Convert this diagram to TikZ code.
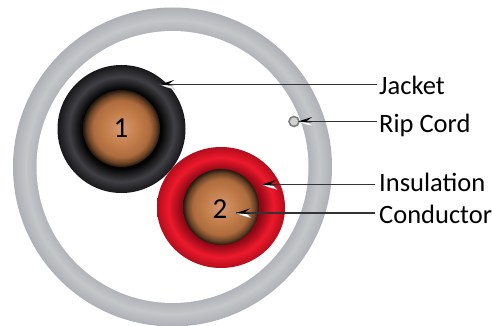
\documentclass[tikz,border=0pt]{standalone}
\usepackage{fontspec}
\usetikzlibrary{shapes.geometric,calc}
\setmainfont{Carlito}
\definecolor{cua}{rgb}{0.84,0.60,0.44}
\definecolor{cub}{rgb}{0.76,0.49,0.29}
\definecolor{cuc}{rgb}{0.68,0.42,0.24}
\definecolor{cud}{rgb}{0.40,0.25,0.14}
\definecolor{cue}{rgb}{0.13,0.09,0.06}
\definecolor{bka}{rgb}{0.01,0.01,0.01}
\definecolor{bkb}{rgb}{0.25,0.25,0.27}
\definecolor{bkc}{rgb}{0.09,0.09,0.10}
\definecolor{rda}{rgb}{0.55,0.03,0.08}
\definecolor{rdb}{rgb}{0.93,0.10,0.17}
\definecolor{rdc}{rgb}{0.70,0.05,0.11}
\definecolor{gya}{rgb}{0.69,0.70,0.72}
\definecolor{gyb}{rgb}{0.77,0.78,0.79}
\definecolor{gyc}{rgb}{0.68,0.69,0.71}
\pgfdeclareradialshading{coppershade}{\pgfpoint{0bp}{0bp}}{
 color(0bp)=(cua);
 color(11bp)=(cub);
 color(18.5bp)=(cuc);
 color(22.5bp)=(cud);
 color(25bp)=(cue);
 color(50bp)=(cue)}
\pgfdeclareradialshading{blackshade}{\pgfpoint{0bp}{0bp}}{
 color(0bp)=(bka);
 color(15.5bp)=(bka);
 color(20.5bp)=(bkb);
 color(25bp)=(bkc);
 color(50bp)=(bkc)}
\pgfdeclareradialshading{redshade}{\pgfpoint{0bp}{0bp}}{
 color(0bp)=(rda);
 color(15.5bp)=(rda);
 color(20.5bp)=(rdb);
 color(25bp)=(rdc);
 color(50bp)=(rdc)}
\pgfdeclareradialshading{greyshade}{\pgfpoint{0bp}{0bp}}{
 color(0bp)=(gya);
 color(21.3bp)=(gya);
 color(23bp)=(gyb);
 color(25bp)=(gyc);
 color(50bp)=(gyc)}
\tikzset{
 x=1pt,y=-1pt,
 disc/.style={ellipse,inner sep=0pt,outer sep=0pt,minimum width=#1,minimum height=#1},
 lab/.style={anchor=base west,inner sep=0pt,font=\fontsize{26.5}{28}\selectfont,text=black},
 num/.style={anchor=base,inner sep=0pt,font=\fontsize{29}{30}\selectfont,text=black},
 leader/.style={draw=black!80,line width=1.1pt},
 tipblack/.style={fill=black},
 tipwhite/.style={fill=white},
 pics/headtip/.style={code={
   \fill[tipwhite,draw=black!40,line width=.2pt] (0,0) -- (11,1) -- (15,5) -- (6,2.5) -- cycle;
   \fill[tipblack] (0,0) -- (14,-4.5) -- (8,0) -- (14,0.5) -- (11,1) -- cycle;
 }}
}
\begin{document}
\begin{tikzpicture}
\useasboundingbox (0,0) rectangle (492,326);
\node[disc=319pt,shading=greyshade] (shell) at (172.5,167) {};
\node[disc=272pt,fill=white] (bore) at (172.5,167) {};
\node[disc=128pt,shading=blackshade] (jacketa) at (121.5,129) {};
\node[disc=77pt,shading=coppershade] (cua) at (121.5,128.5) {};
\node[disc=128pt,minimum height=121pt,shading=redshade] (insb) at (221,207.5) {};
\node[disc=76pt,shading=coppershade] (cub) at (221,207) {};
\node[num] (one) at (121,137) {1};
\node[num] (two) at (220,218) {2};
\node[disc=10pt,draw=black!50,line width=1.6pt,fill=black!18] (rip) at (294,121.5) {};
\node[lab] (ljacket) at (379,94.5) {Jacket};
\node[lab] (lrip) at (379,132.5) {Rip Cord};
\node[lab] (lins) at (379,191) {Insulation};
\node[lab] (lcond) at (379,223) {Conductor};
\coordinate (tjacket) at (160,84.5);
\coordinate (trip) at (298,121.5);
\coordinate (tins) at (262,184.5);
\coordinate (tcond) at (236,213);
\draw[leader] (tjacket) -- ([xshift=-2pt]tjacket -| ljacket.west);
\draw[leader] (trip) -- ([xshift=-2pt]trip -| lrip.west);
\draw[leader] (tins) -- ([xshift=-4pt]tins -| lins.west);
\draw[leader] (tcond) -- ([xshift=-4pt]tcond -| lcond.west);
\pic at (tjacket) {headtip};
\pic at (trip) {headtip};
\pic at (tins) {headtip};
\pic at (tcond) {headtip};
\end{tikzpicture}
\end{document}
